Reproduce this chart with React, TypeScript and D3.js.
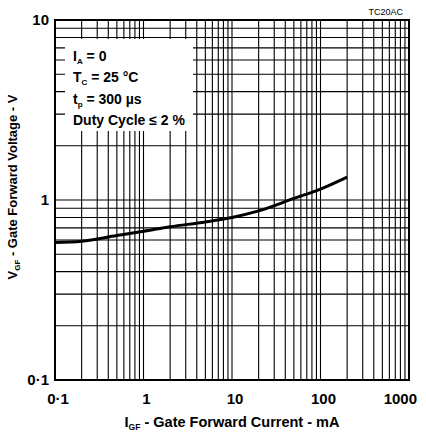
import React from 'react';
import * as d3 from 'd3';

// Gate forward current (mA) vs gate forward voltage (V)
const currentMA = [0.1, 0.2, 0.5, 1, 2, 5, 10, 20, 50, 100, 200];
const voltageV = [0.58, 0.59, 0.635, 0.67, 0.71, 0.755, 0.8, 0.87, 1.02, 1.15, 1.34];

const xTickLabels = ['0·1', '1', '10', '100', '1000'];
const xTickValues = [0.1, 1, 10, 100, 1000];
const yTickLabels = ['0·1', '1', '10'];
const yTickValues = [0.1, 1, 10];

const width = 426;
const height = 433;
const margin = { top: 20, right: 17, bottom: 53, left: 55 };
const font = '"Liberation Sans", Arial, Helvetica, sans-serif';

const App: React.FC = () => {
  const innerWidth = width - margin.left - margin.right;
  const innerHeight = height - margin.top - margin.bottom;

  const xScale = d3.scaleLog().domain([0.1, 1000]).range([0, innerWidth]);
  const yScale = d3.scaleLog().domain([0.1, 10]).range([innerHeight, 0]);

  const points = currentMA.map((c, i) => ({ c, v: voltageV[i] }));
  const line = d3
    .line<{ c: number; v: number }>()
    .x((d) => xScale(d.c))
    .y((d) => yScale(d.v))
    .curve(d3.curveMonotoneX);

  const xGrid = xScale.ticks();
  const yGrid = yScale.ticks();

  return (
    <svg
      width={width}
      height={height}
      style={{ position: 'absolute', left: 0, top: 0, background: '#fff' }}
      fontFamily={font}
    >
      <text x={403} y={15} fontSize={9} textAnchor="end" fill="#000">
        TC20AC
      </text>
      <g transform={`translate(${margin.left},${margin.top})`}>
        {/* grid */}
        {xGrid.map((t, i) => (
          <line
            key={'x' + i}
            x1={xScale(t)}
            x2={xScale(t)}
            y1={0}
            y2={innerHeight}
            stroke="#000"
            strokeWidth={1.1}
          />
        ))}
        {yGrid.map((t, i) => (
          <line
            key={'y' + i}
            x1={0}
            x2={innerWidth}
            y1={yScale(t)}
            y2={yScale(t)}
            stroke="#000"
            strokeWidth={1.1}
          />
        ))}

        {/* legend box */}
        <rect x={10} y={19} width={128} height={92} fill="#fff" />
        <g fontSize={14} fontWeight="bold" fill="#000">
          <text x={18} y={41}>
            I<tspan fontSize={8} dy={3}>A</tspan>
            <tspan dy={-3}> = 0</tspan>
          </text>
          <text x={18} y={62}>
            T<tspan fontSize={8} dy={3}>C</tspan>
            <tspan dy={-3}> = 25 °C</tspan>
          </text>
          <text x={18} y={84}>
            t<tspan fontSize={8} dy={3}>p</tspan>
            <tspan dy={-3}> = 300 µs</tspan>
          </text>
          <text x={18} y={105}>Duty Cycle ≤ 2 %</text>
        </g>

        {/* curve */}
        <path d={line(points) || ''} fill="none" stroke="#000" strokeWidth={3} />

        {/* frame */}
        <rect x={0} y={0} width={innerWidth} height={innerHeight} fill="none" stroke="#000" strokeWidth={2} />

        {/* x tick labels */}
        {xTickValues.map((t, i) => {
          const last = i === xTickValues.length - 1;
          return (
            <text
              key={'xl' + i}
              x={xScale(t) + (last ? 8 : 3)}
              y={innerHeight + 24}
              textAnchor={last ? 'end' : 'middle'}
              fontSize={15}
              fontWeight="bold"
            >
              {xTickLabels[i]}
            </text>
          );
        })}
        {/* y tick labels */}
        {yTickValues.map((t, i) => (
          <text
            key={'yl' + i}
            x={-6}
            y={yScale(t)}
            dy="0.36em"
            textAnchor="end"
            fontSize={15}
            fontWeight="bold"
          >
            {yTickLabels[i]}
          </text>
        ))}

        {/* axis titles */}
        <text
          x={innerWidth / 2}
          y={innerHeight + 47}
          textAnchor="middle"
          fontSize={14.5}
          fontWeight="bold"
        >
          I<tspan fontSize={8.5} dy={3}>GF</tspan>
          <tspan dy={-3}> - Gate Forward Current - mA</tspan>
        </text>
        <text
          transform={`translate(${-38},${innerHeight / 2 - 13}) rotate(-90)`}
          textAnchor="middle"
          fontSize={13}
          fontWeight="bold"
        >
          V<tspan fontSize={8} dy={3}>GF</tspan>
          <tspan dy={-3}> - Gate Forward Voltage - V</tspan>
        </text>
      </g>
    </svg>
  );
};

export default App;
